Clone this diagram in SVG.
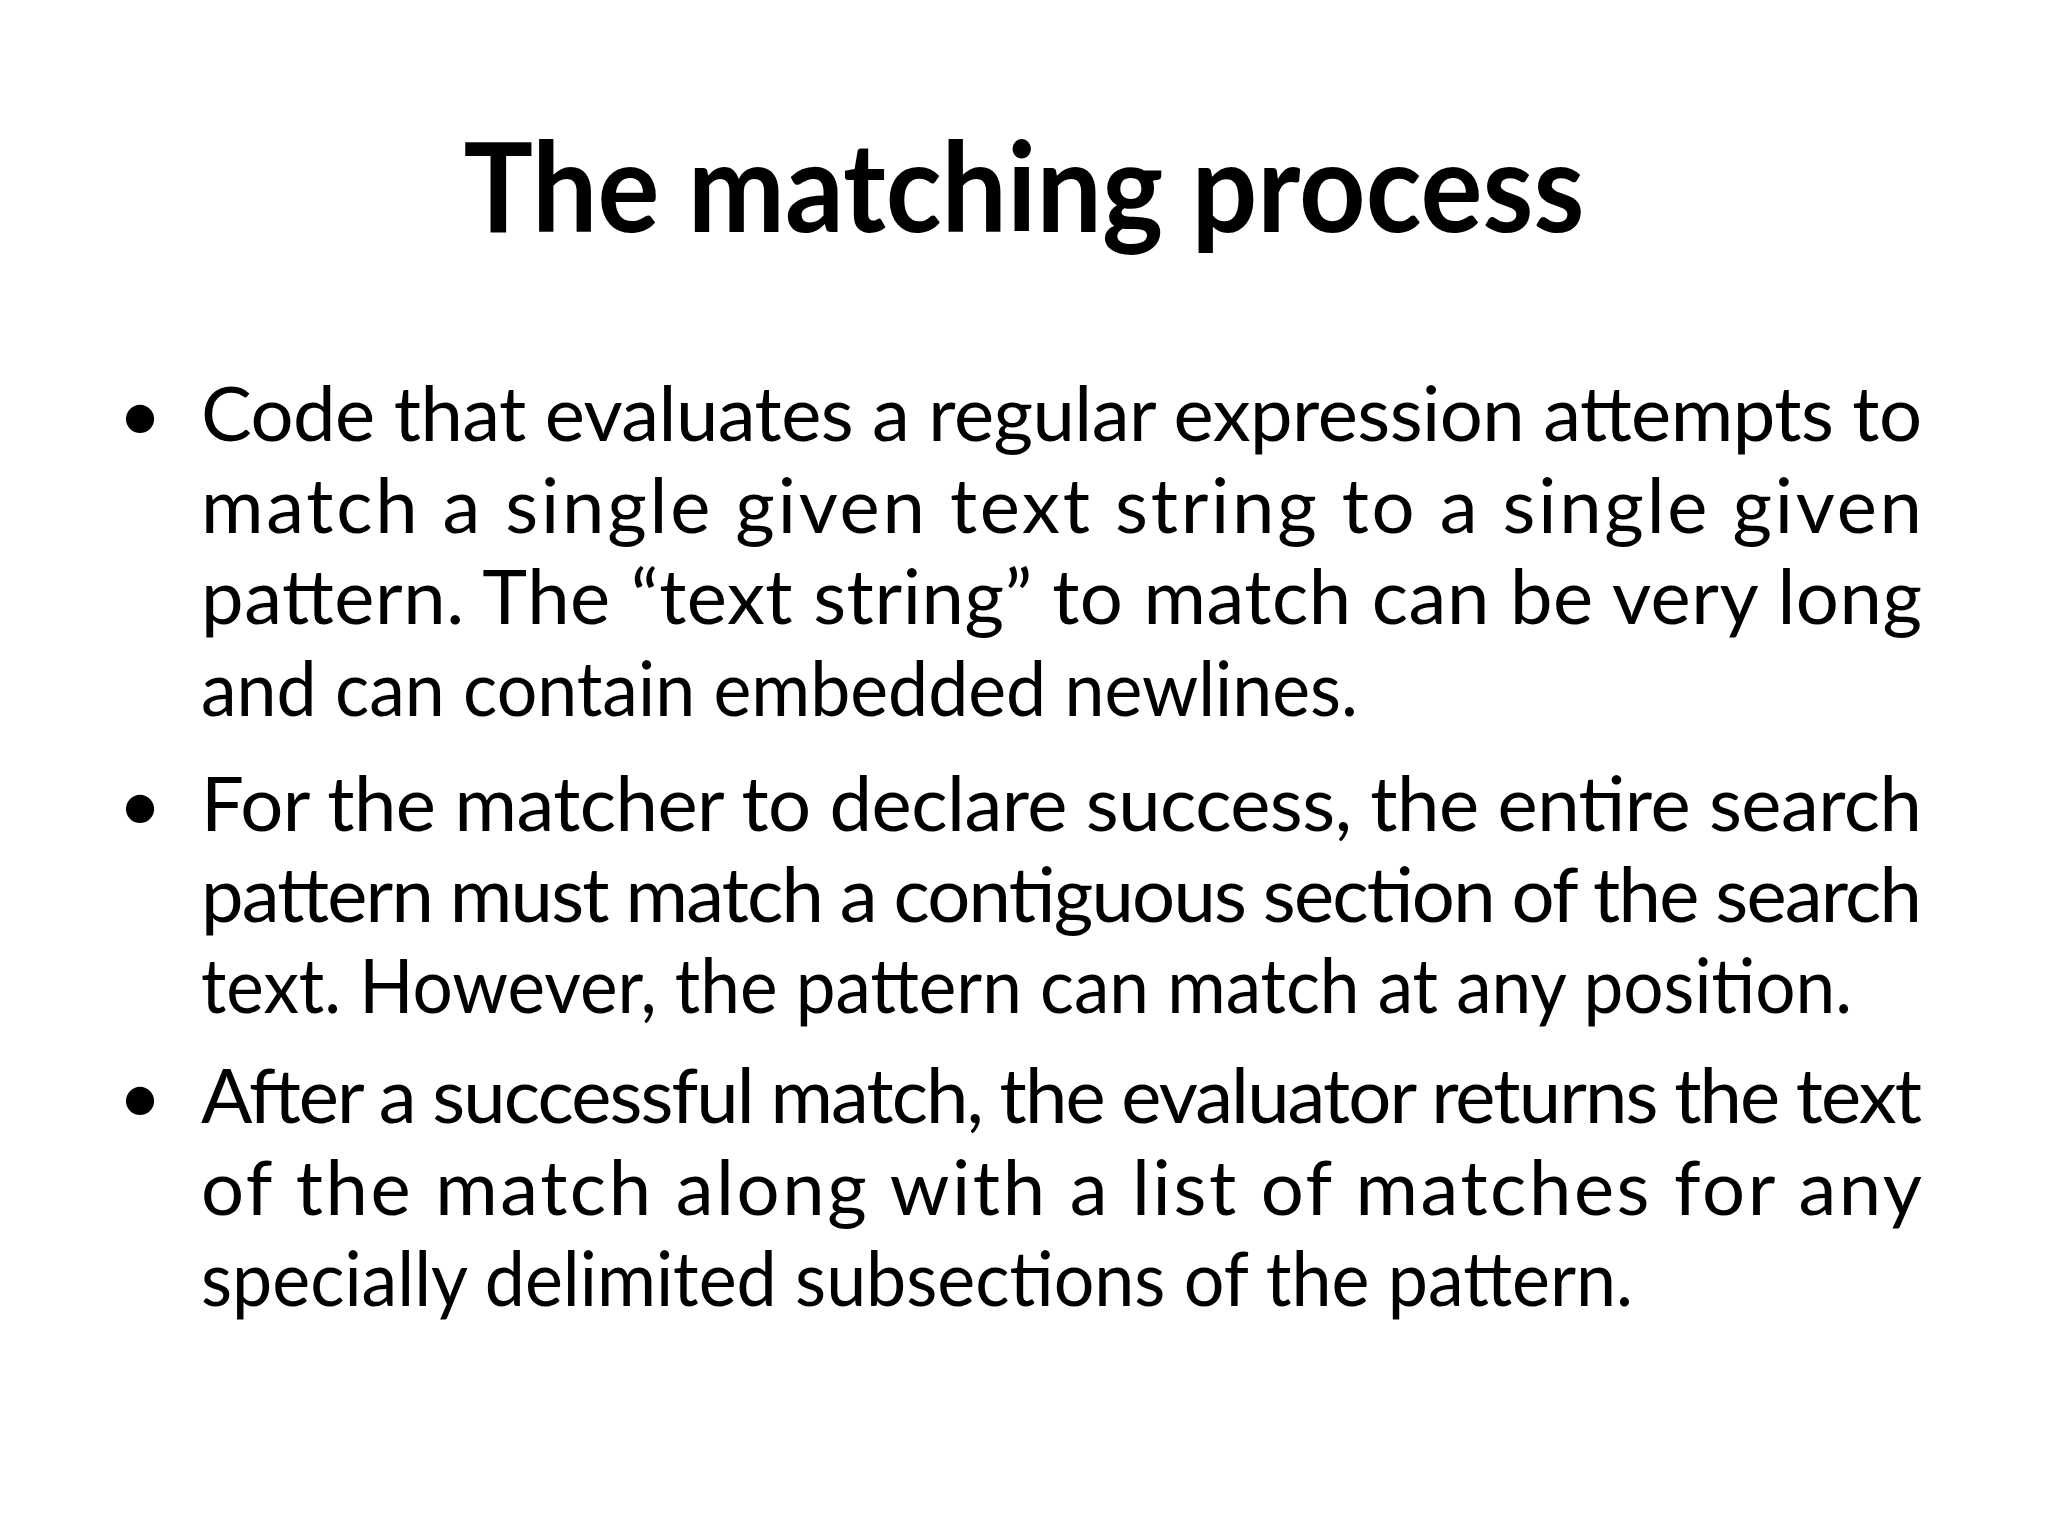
<svg xmlns="http://www.w3.org/2000/svg" width="2048" height="1536" viewBox="0 0 2048 1536">
<style>
.t{font-family:Lato,"Open Sans","Liberation Sans",sans-serif;font-weight:bold;font-size:124px;fill:#000}
.b{font-family:Lato,"Open Sans","Liberation Sans",sans-serif;font-size:76px;fill:#000}
</style>
<rect width="2048" height="1536" fill="#fff"/>
<g id="title"><text class="t" x="1024" y="232" text-anchor="middle" textLength="1121" lengthAdjust="spacingAndGlyphs">The matching process</text></g>
<g id="bullet1">
<text class="b" x="118" y="441">•</text>
<text class="b" x="201" y="441" textLength="1721" lengthAdjust="spacing">Code that evaluates a regular expression attempts to</text>
<text class="b" x="201" y="533" textLength="1721" lengthAdjust="spacing">match a single given text string to a single given</text>
<text class="b" x="201" y="624" textLength="1721" lengthAdjust="spacing">pattern. The “text string” to match can be very long</text>
<text class="b" x="201" y="716" textLength="1157" lengthAdjust="spacingAndGlyphs">and can contain embedded newlines.</text>
</g>
<g id="bullet2">
<text class="b" x="118" y="831">•</text>
<text class="b" x="201" y="831" textLength="1721" lengthAdjust="spacing">For the matcher to declare success, the entire search</text>
<text class="b" x="201" y="922" textLength="1721" lengthAdjust="spacing">pattern must match a contiguous  section of the search</text>
<text class="b" x="201" y="1013" textLength="1651" lengthAdjust="spacingAndGlyphs">text. However, the pattern can match at any position.</text>
</g>
<g id="bullet3">
<text class="b" x="118" y="1123">•</text>
<text class="b" x="201" y="1123" textLength="1721" lengthAdjust="spacing">After a successful match, the evaluator returns the text</text>
<text class="b" x="201" y="1215" textLength="1721" lengthAdjust="spacing">of the match along with a list of matches for any</text>
<text class="b" x="201" y="1306" textLength="1432" lengthAdjust="spacingAndGlyphs">specially delimited subsections of the pattern.</text>
</g>
</svg>
